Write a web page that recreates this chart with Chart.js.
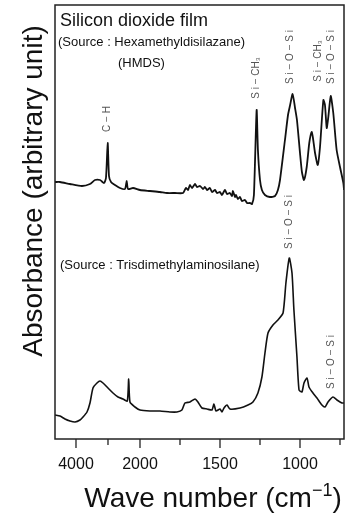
<!DOCTYPE html>
<html><head><meta charset="utf-8">
<script src="https://cdn.jsdelivr.net/npm/chart.js@4.4.0/dist/chart.umd.min.js"></script>
<style>html,body{margin:0;padding:0;background:#fff;}#wrap{width:350px;height:518px;position:relative;}</style>
</head><body><div id="wrap"><canvas id="c"></canvas></div>
<script>
// Upper spectrum: source Hexamethyldisilazane (HMDS)
const hmdsWavenumber = [4656,4500,4188,3813,3563,3406,3250,3125,3063,3009,2969,2906,2781,2625,2469,2416,2375,2219,2000,1938,1875,1831,1781,1731,1713,1700,1688,1675,1656,1644,1625,1606,1594,1581,1563,1550,1531,1519,1500,1488,1469,1456,1438,1425,1419,1406,1400,1388,1375,1363,1344,1331,1313,1300,1288,1271,1263,1250,1238,1219,1188,1156,1138,1125,1094,1075,1063,1046,1031,1019,1000,988,975,958,942,927,919,906,889,875,854,844,833,823,808,792,771,750,729,725];
const hmdsAbsorbance = [257,257,255,253,255,259,259,256,261,296,263,257,254,251,250,258,250,251,249,248,247,246,246,246,251,249,254,251,255,252,253,250,252,249,251,247,249,246,247,244,249,245,246,243,248,242,244,240,242,238,239,236,236,235,244,329,289,259,249,244,242,243,249,259,299,324,333,345,331,319,286,267,259,272,296,307,301,286,274,292,339,334,311,322,343,326,289,272,256,249];
// Lower spectrum: source Trisdimethylaminosilane
const trisWavenumber = [4656,4500,4344,4188,4031,3875,3781,3656,3563,3469,3344,3250,3156,3000,2844,2688,2531,2397,2353,2313,2156,2000,1938,1875,1813,1769,1738,1719,1688,1656,1638,1613,1581,1550,1538,1525,1500,1488,1475,1456,1438,1375,1325,1294,1263,1238,1219,1200,1169,1138,1106,1088,1067,1050,1038,1019,1006,988,975,956,944,919,894,863,844,825,794,769,738,725];
const trisAbsorbance = [24,23,20,18,17,19,22,27,36,51,56,58,56,51,46,42,40,38,60,37,32,29,28,28,27,27,29,36,37,40,37,31,30,29,35,28,30,27,31,34,30,31,34,37,46,62,86,106,114,119,126,156,181,166,129,82,49,47,56,61,52,46,41,34,32,37,42,39,36,36];
// Axis ticks (cm-1)
const tickWavenumbers = [4000,3000,2000,1750,1500,1250,1000,750];
const labeledTicks = [4000,2000,1500,1000];
// Band annotations
const bandText = ['C \u2212 H','S i \u2212 CH\u2083','S i \u2212 O \u2212 S i','S i \u2212 CH\u2083','S i \u2212 O \u2212 S i','S i \u2212 O \u2212 S i','S i \u2212 O \u2212 S i'];
const bandWavenumber = [3031,1271,1063,888,806,1069,806];
const bandLevel = [320,361,382,378,382,217,77];

// Wavenumber axis with scale change at 2000 cm-1 (5x compressed above)
function toU(w){ return w <= 2000 ? w : 2000 + (w - 2000) * 0.2; }
function fromU(u){ return u <= 2000 ? u : 2000 + (u - 2000) / 0.2; }

const hmdsPts = hmdsWavenumber.map((w,i)=>({x:toU(w), y:hmdsAbsorbance[i]}));
const trisPts = trisWavenumber.map((w,i)=>({x:toU(w), y:trisAbsorbance[i]}));

const FONT = "'Liberation Sans', Arial, Helvetica, sans-serif";

const deco = {
  id:'deco',
  afterDraw(chart){
    const ctx = chart.ctx, a = chart.chartArea, xs = chart.scales.x, ys = chart.scales.y;
    ctx.save();
    // frame
    ctx.strokeStyle = '#222'; ctx.lineWidth = 1.5;
    ctx.strokeRect(a.left, a.top, a.right - a.left, a.bottom - a.top);
    // ticks
    ctx.lineWidth = 1.3;
    tickWavenumbers.forEach(w=>{
      const px = xs.getPixelForValue(toU(w));
      const len = labeledTicks.includes(w) ? 9 : 6;
      ctx.beginPath(); ctx.moveTo(px, a.bottom); ctx.lineTo(px, a.bottom + len); ctx.stroke();
    });
    // texts
    ctx.fillStyle = '#111';
    ctx.textBaseline = 'alphabetic'; ctx.textAlign = 'left';
    ctx.font = '18px ' + FONT;
    ctx.fillText('Silicon dioxide film', 60, 26);
    ctx.font = '13px ' + FONT;
    ctx.fillText('(Source : Hexamethyldisilazane)', 58, 46);
    ctx.fillText('(HMDS)', 118, 67);
    ctx.fillText('(Source : Trisdimethylaminosilane)', 60, 269);
    // band labels
    ctx.fillStyle = '#555';
    ctx.font = '10px ' + FONT;
    ctx.textAlign = 'center'; ctx.textBaseline = 'middle';
    bandText.forEach((t,i)=>{
      const px = xs.getPixelForValue(toU(bandWavenumber[i]));
      const py = ys.getPixelForValue(bandLevel[i]);
      ctx.save(); ctx.translate(px, py); ctx.rotate(-Math.PI/2);
      ctx.fillText(t, 0, 0); ctx.restore();
    });
    // y title
    ctx.fillStyle = '#111';
    ctx.font = '28px ' + FONT;
    ctx.textAlign = 'center'; ctx.textBaseline = 'alphabetic';
    ctx.save(); ctx.translate(42, 191); ctx.rotate(-Math.PI/2);
    ctx.fillText('Absorbance (arbitrary unit)', 0, 0); ctx.restore();
    // x title with superscript
    ctx.textAlign = 'left';
    const main = 'Wave number (cm';
    ctx.font = '28px ' + FONT;
    const w1 = ctx.measureText(main).width;
    ctx.font = '18px ' + FONT;
    const sup = '\u22121';
    const w2 = ctx.measureText(sup).width;
    ctx.font = '28px ' + FONT;
    const w3 = ctx.measureText(')').width;
    const total = w1 + w2 + w3;
    let x0 = 213 - total/2;
    ctx.fillText(main, x0, 507);
    ctx.font = '18px ' + FONT;
    ctx.fillText(sup, x0 + w1, 496);
    ctx.font = '28px ' + FONT;
    ctx.fillText(')', x0 + w1 + w2, 507);
    ctx.restore();
  }
};

new Chart(document.getElementById('c'), {
  type:'line',
  data:{datasets:[
    {label:'HMDS', data:hmdsPts, borderColor:'#111', borderWidth:1.8, pointRadius:0, tension:0.2, fill:false},
    {label:'Trisdimethylaminosilane', data:trisPts, borderColor:'#111', borderWidth:1.6, pointRadius:0, tension:0.2, fill:false}
  ]},
  options:{
    responsive:true, maintainAspectRatio:false, animation:false,
    layout:{padding:{left:55, right:6, top:5, bottom:0}},
    plugins:{legend:{display:false}, tooltip:{enabled:false}},
    scales:{
      x:{type:'linear', reverse:true, min:toU(725), max:toU(4656),
        afterFit(s){ s.height = 79; },
        afterBuildTicks(s){ s.ticks = tickWavenumbers.map(w=>({value:toU(w)})); },
        grid:{drawOnChartArea:false, drawTicks:true, tickLength:7, tickColor:'rgba(0,0,0,0)'},
        border:{display:false},
        ticks:{autoSkip:false, maxRotation:0, padding:9, color:'#111',
          font:{family:"'Liberation Sans Narrow', 'Arial Narrow', 'Liberation Sans', sans-serif", size:16},
          callback(v){ const w = Math.round(fromU(v)); return labeledTicks.includes(w) ? String(w) : ''; }}
      },
      y:{display:false, min:0, max:434}
    }
  },
  plugins:[deco]
});
</script></body></html>
